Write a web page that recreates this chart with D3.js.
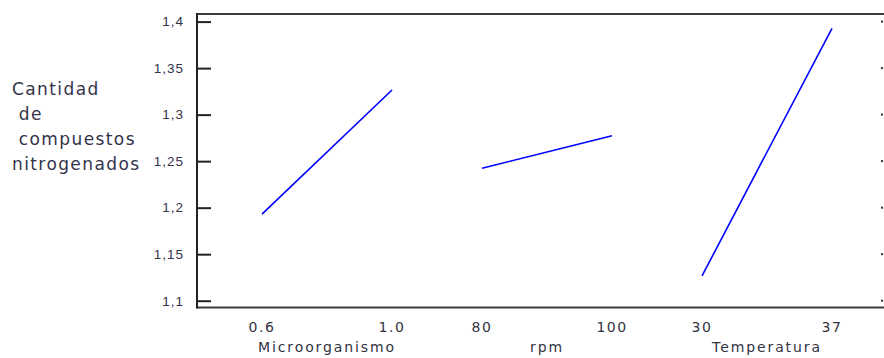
<!DOCTYPE html>
<html>
<head>
<meta charset="utf-8">
<script src="https://cdn.jsdelivr.net/npm/d3@7"></script>
<style>
  body { margin: 0; background: #fff; }
  svg { display: block; font-family: "DejaVu Sans", sans-serif; }
</style>
</head>
<body>
<div id="graph"></div>
<script>
// Factors, their levels and the mean response at each level
const factors = ["Microorganismo", "rpm", "Temperatura"];
const levels = [["0.6", "1.0"], ["80", "100"], ["30", "37"]];
const means = [[1.193, 1.3265], [1.2423, 1.2774], [1.1266, 1.3928]];
const yTicks = [1.1, 1.15, 1.2, 1.25, 1.3, 1.35, 1.4];
const yTitle = ["Cantidad", " de", " compuestos", "nitrogenados"];

const width = 884;
const height = 358;
const marginTop = 14;
const marginBottom = 51;
const marginLeft = 197;

const svg = d3.select("#graph").append("svg")
    .attr("width", width)
    .attr("height", height)
    .attr("viewBox", [0, 0, width, height]);

// y scale: 1.1 .. 1.4 sits a bit inside the frame
const y = d3.scaleLinear()
    .domain([1.1, 1.4])
    .range([300.7, 21.6]);

// one band per factor, a point scale inside each band for the levels
const x = d3.scaleBand()
    .domain(factors)
    .range([262, 832])
    .paddingInner(90 / 220)
    .paddingOuter(0);

const inner = factors.map((f, i) => d3.scalePoint()
    .domain(levels[i])
    .range([x(f), x(f) + x.bandwidth()]));

const frameBottom = height - marginBottom + 0.5;

// frame lines
svg.append("line")
    .attr("x1", marginLeft).attr("x2", width)
    .attr("y1", marginTop).attr("y2", marginTop)
    .attr("stroke", "#3a3a3a").attr("stroke-width", 2);
svg.append("line")
    .attr("x1", marginLeft).attr("x2", width)
    .attr("y1", frameBottom).attr("y2", frameBottom)
    .attr("stroke", "#3a3a3a").attr("stroke-width", 2);

// left axis with inward ticks
svg.append("g")
    .attr("transform", `translate(${marginLeft},0)`)
    .call(d3.axisLeft(y)
        .tickValues(yTicks)
        .tickSize(-14)
        .tickPadding(13)
        .tickFormat(d => String(d).replace(".", ",")))
    .call(g => g.select(".domain").remove())
    .call(g => g.selectAll(".tick line").attr("stroke", "#222").attr("stroke-width", 2))
    .call(g => g.selectAll(".tick text")
        .attr("fill", "#33334a")
        .attr("font-size", 13.5)
        .attr("letter-spacing", 1));

svg.append("line")
    .attr("x1", marginLeft).attr("x2", marginLeft)
    .attr("y1", marginTop - 1).attr("y2", frameBottom + 1)
    .attr("stroke", "#222").attr("stroke-width", 2);

// small dots on the right edge at each tick
svg.append("g")
    .selectAll("rect")
    .data(yTicks)
    .join("rect")
    .attr("x", 881)
    .attr("y", d => y(d) - 1)
    .attr("width", 2)
    .attr("height", 2)
    .attr("fill", "#333");

// bottom tick labels
const tickG = svg.append("g")
    .attr("fill", "#33333f")
    .attr("font-size", 14)
    .attr("text-anchor", "middle");
factors.forEach((f, i) => {
    tickG.selectAll(null)
        .data(levels[i])
        .join("text")
        .attr("x", d => inner[i](d))
        .attr("y", 332)
        .attr("letter-spacing", 1.5)
        .text(d => d);
});

// factor names
svg.append("g")
    .attr("fill", "#33333f")
    .attr("font-size", 14)
    .attr("text-anchor", "middle")
    .selectAll("text")
    .data(factors)
    .join("text")
    .attr("x", d => x(d) + x.bandwidth() / 2)
    .attr("y", 352)
    .attr("letter-spacing", 1.9)
    .text(d => d);

// y title, four lines
svg.append("text")
    .attr("fill", "#33334a")
    .attr("font-size", 17)
    .attr("letter-spacing", 1.4)
    .attr("xml:space", "preserve")
    .style("white-space", "pre")
    .selectAll("tspan")
    .data(yTitle)
    .join("tspan")
    .attr("x", 12)
    .attr("y", (d, i) => 95 + i * 25)
    .text(d => d);

// mean lines
const line = d3.line();
svg.append("g")
    .attr("fill", "none")
    .attr("stroke", "#0000ff")
    .attr("stroke-width", 1.6)
    .selectAll("path")
    .data(factors.map((f, i) => levels[i].map((l, j) => [inner[i](l), y(means[i][j])])))
    .join("path")
    .attr("d", line);
</script>
</body>
</html>
